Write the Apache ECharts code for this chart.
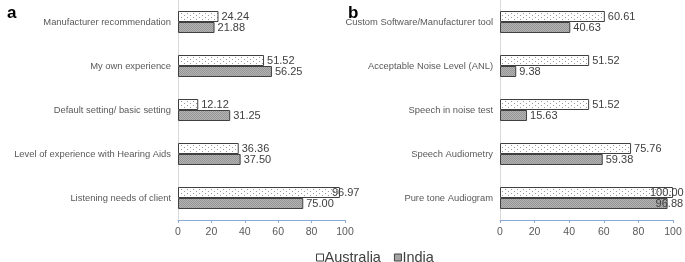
<!DOCTYPE html>
<html>
<head>
<meta charset="utf-8">
<script src="https://cdn.jsdelivr.net/npm/echarts@6/dist/echarts.min.js"></script>
<style>
  html, body { margin: 0; padding: 0; background: #fff; }
  #chart { width: 685px; height: 262px; }
</style>
</head>
<body>
<div id="chart"></div>
<script>
const catsA = ['Manufacturer recommendation', 'My own experience', 'Default setting/ basic setting',
  'Level of experience with Hearing Aids', 'Listening needs of client'];
const ausA = [24.24, 51.52, 12.12, 36.36, 96.97];
const indA = [21.88, 56.25, 31.25, 37.50, 75.00];

const catsB = ['Custom Software/Manufacturer tool', 'Acceptable Noise Level (ANL)', 'Speech in noise test',
  'Speech Audiometry', 'Pure tone Audiogram'];
const ausB = [60.61, 51.52, 51.52, 75.76, 100.00];
const indB = [40.63, 9.38, 15.63, 59.38, 96.88];

const xTicks = [0, 20, 40, 60, 80, 100];

// fill patterns like the original (dotted white / stippled gray)
function dotPattern() {
  const c = document.createElement('canvas');
  c.width = 6; c.height = 4;
  const g = c.getContext('2d');
  g.fillStyle = '#fff'; g.fillRect(0, 0, 6, 4);
  g.fillStyle = '#9a9a9a';
  g.fillRect(1, 1, 1, 1);
  g.fillRect(4, 3, 1, 1);
  return c;
}
function grayPattern() {
  const c = document.createElement('canvas');
  c.width = 2; c.height = 2;
  const g = c.getContext('2d');
  g.fillStyle = '#b4b4b4'; g.fillRect(0, 0, 2, 2);
  g.fillStyle = '#959595';
  g.fillRect(0, 0, 1, 1);
  g.fillRect(1, 1, 1, 1);
  return c;
}
const ausFill = { image: dotPattern(), repeat: 'repeat' };
const indFill = { image: grayPattern(), repeat: 'repeat' };

const font = 'Liberation Sans, Arial, sans-serif';

function xAxis(gridIndex) {
  return {
    type: 'value', gridIndex: gridIndex, min: 0, max: 100, interval: 20,
    axisLine: { show: true, lineStyle: { color: '#8eaadb', width: 1 } },
    axisTick: { show: true, length: 3, lineStyle: { color: '#8eaadb' } },
    splitLine: { show: false },
    axisLabel: { color: '#595959', fontSize: 10.5, fontFamily: font, margin: 7,
      formatter: v => xTicks.includes(v) ? String(v) : '' }
  };
}
function yAxis(gridIndex, cats) {
  return {
    type: 'category', gridIndex: gridIndex, data: cats, inverse: true,
    axisLine: { show: true, lineStyle: { color: '#d9d9d9' } },
    axisTick: { show: false },
    axisLabel: { color: '#595959', fontSize: 9.4, fontFamily: font, margin: 7 }
  };
}
// labels near the right edge were nudged left in the original
function bar(name, data, fill, idx, shifts) {
  return {
    name: name, type: 'bar', xAxisIndex: idx, yAxisIndex: idx,
    data: data.map((v, i) => shifts[i] ? { value: v, label: { offset: [shifts[i], 0] } } : v),
    barWidth: 11, barGap: '0%',
    itemStyle: { color: fill, borderColor: '#404040', borderWidth: 1 },
    label: { show: true, position: 'right', distance: 3, color: '#404040', fontSize: 11,
      fontFamily: font, formatter: p => p.value.toFixed(2) },
    animation: false
  };
}

const chart = echarts.init(document.getElementById('chart'));
chart.setOption({
  animation: false,
  title: [
    { text: 'a', left: 2, top: 0, textStyle: { fontSize: 17, fontWeight: 'bold', color: '#000', fontFamily: font } },
    { text: 'b', left: 343, top: 0, textStyle: { fontSize: 17, fontWeight: 'bold', color: '#000', fontFamily: font } }
  ],
  legend: {
    top: 245, left: 311, itemWidth: 7, itemHeight: 7, itemGap: 13,
    icon: 'rect',
    textStyle: { fontSize: 14.5, color: '#404040', fontFamily: font, padding: [0, 0, 0, -4] },
    data: [
      { name: 'Australia', itemStyle: { color: '#fff', borderColor: '#404040', borderWidth: 1 } },
      { name: 'India', itemStyle: { color: '#a5a5a5', borderColor: '#404040', borderWidth: 1 } }
    ]
  },
  grid: [
    { left: 178, right: 340, top: 0, bottom: 42 },
    { left: 500, right: 12, top: 0, bottom: 42 }
  ],
  xAxis: [xAxis(0), xAxis(1)],
  yAxis: [yAxis(0, catsA), yAxis(1, catsB)],
  series: [
    bar('Australia', ausA, ausFill, 0, { 4: -11 }),
    bar('India', indA, indFill, 0, {}),
    bar('Australia', ausB, ausFill, 1, { 4: -26 }),
    bar('India', indB, indFill, 1, { 4: -15 })
  ]
});
</script>
</body>
</html>
